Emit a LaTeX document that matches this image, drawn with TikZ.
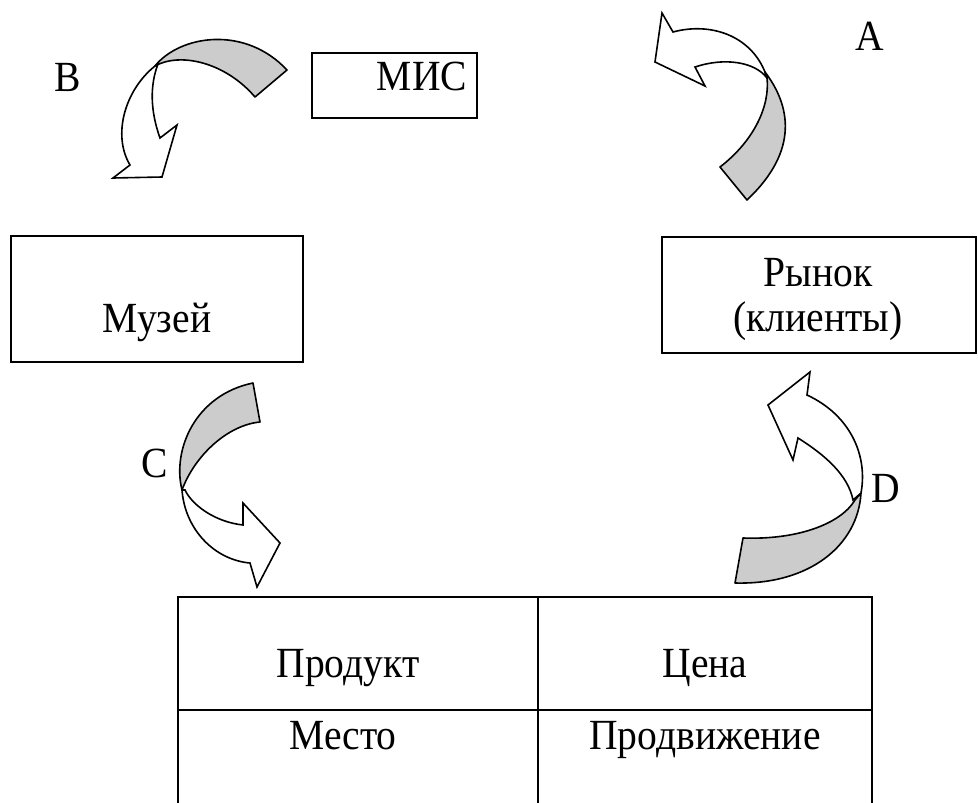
\documentclass[tikz,border=0pt]{standalone}
\usepackage{fontspec}
\setmainfont{Liberation Serif}[FakeStretch=0.92]
\begin{document}
\begin{tikzpicture}[x=1pt,y=-1pt,
  box/.style={draw,line width=1.6pt},
  lbl/.style={font=\fontsize{43}{49}\selectfont,anchor=base,inner sep=0pt},
  greyband/.style={draw,line width=1.6pt,fill=black!20,line join=round},
  whiteband/.style={draw,line width=1.6pt,fill=white,line join=miter}]
\useasboundingbox (0,0) rectangle (978,803);
% boxes
\draw[box] (312,53) rectangle (477,118);
\draw[box] (11,236) rectangle (303,362);
\draw[box] (662,237) rectangle (976,353);
% table
\draw[line width=1.6pt] (178,803) -- (178,597) -- (872,597) -- (872,803);
\draw[line width=1.6pt] (538,597) -- (538,803);
\draw[line width=1.6pt] (178,710) -- (872,710);
% texts
\node[lbl] (mis) at (422,90) {МИС};
\node[lbl] (muz) at (157,332) {Музей};
\node[lbl] (ryn1) at (818,286) {Рынок};
\node[lbl] (ryn2) at (818,331) {(клиенты)};
\node[lbl] (prod) at (348,677) {Продукт};
\node[lbl] (cena) at (705,677) {Цена};
\node[lbl] (mesto) at (343,749) {Место};
\node[lbl] (prodv) at (705,749) {Продвижение};
\node[lbl] (la) at (870,50) {A};
\node[lbl] (lb) at (68,91) {B};
\node[lbl] (lc) at (155,477) {C};
\node[lbl] (ld) at (886,502) {D};
% arrow B
\draw[whiteband] (155,66) .. controls (125,90) and (112,135) .. (130,165) -- (113,178) -- (162,177) -- (177,125) -- (160,138) .. controls (150,110) and (150,85) .. (158,64) -- cycle;
\draw[greyband] (155,66) .. controls (180,35) and (245,25) .. (287,70) -- (255,97) .. controls (225,62) and (180,52) .. (155,66) -- cycle;
% arrow A
\draw[whiteband] (765,72) .. controls (750,35) and (710,22) .. (673,32) -- (662,13) -- (655,62) -- (705,86) -- (695,67) .. controls (725,57) and (755,62) .. (767,78) -- cycle;
\draw[greyband] (765,72) .. controls (790,105) and (800,150) .. (747,200) -- (720,167) .. controls (755,140) and (770,105) .. (767,78) -- cycle;
% arrow C
\draw[greyband] (253,383) -- (260,422) .. controls (228,425) and (195,455) .. (182,490) .. controls (172,450) and (195,395) .. (253,383) -- cycle;
\draw[whiteband] (182,490) .. controls (185,530) and (215,560) .. (250,563) -- (257,587) -- (280,543) -- (243,503) -- (243,525) .. controls (215,522) and (192,505) .. (185,490) -- cycle;
% arrow D
\draw[greyband] (743,538) .. controls (795,540) and (840,525) .. (855,500) -- (861,493) .. controls (858,545) and (810,585) .. (735,583) -- cycle;
\draw[whiteband] (861,493) .. controls (868,455) and (850,415) .. (807,395) -- (810,372) -- (768,405) -- (793,460) -- (798,438) .. controls (825,455) and (848,475) .. (853,500) -- cycle;
\end{tikzpicture}
\end{document}
